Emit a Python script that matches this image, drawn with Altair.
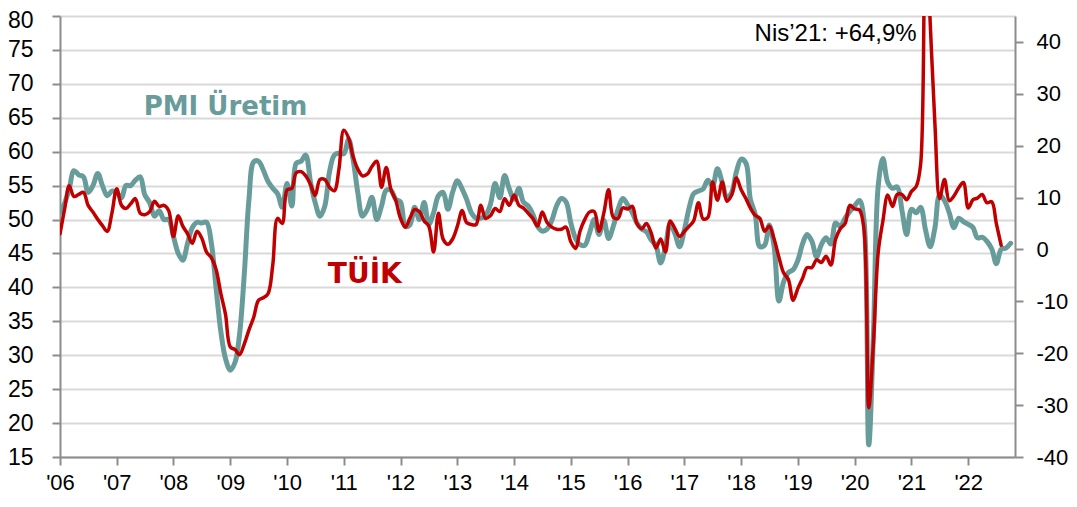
import altair as alt
import pandas as pd

# ---- data (monthly, Jan 2006 onward) ----
start_month = "2006-01-01"
year_ticks = list(range(2006, 2023))

pmi_2006 = [51.0, 52.5, 54.5, 57.2, 56.6, 56.3, 54.0, 55.0, 56.8, 55.0, 53.5, 54.2]
pmi_2007 = [54.0, 53.2, 55.0, 55.0, 55.8, 56.3, 53.6, 52.5, 50.5, 51.3, 50.0, 50.0]
pmi_2008 = [47.5, 45.0, 44.0, 46.5, 48.8, 49.6, 49.5, 49.6, 46.5, 40.0, 33.5, 29.5]
pmi_2009 = [27.8, 29.0, 33.0, 42.0, 53.0, 58.5, 58.6, 57.3, 55.6, 54.6, 53.8, 51.8]
pmi_2010 = [55.3, 52.0, 58.3, 58.6, 59.5, 55.5, 52.5, 50.5, 52.0, 57.0, 59.5, 59.8]
pmi_2011 = [59.7, 61.8, 59.0, 54.0, 50.5, 51.5, 53.3, 50.0, 52.0, 54.3, 54.3, 53.0]
pmi_2012 = [52.6, 49.0, 49.2, 51.8, 50.0, 52.5, 49.3, 51.0, 53.5, 54.0, 51.5, 54.0]
pmi_2013 = [55.7, 54.5, 53.0, 51.0, 50.2, 50.2, 50.6, 52.2, 55.3, 53.2, 56.5, 54.5]
pmi_2014 = [53.0, 54.6, 52.6, 52.0, 50.8, 49.0, 48.3, 48.6, 49.9, 52.0, 53.1, 52.6]
pmi_2015 = [49.5, 47.2, 46.3, 46.2, 48.0, 50.0, 47.8, 49.9, 47.2, 49.0, 51.5, 53.1]
pmi_2016 = [52.2, 51.0, 49.5, 48.6, 48.2, 47.0, 46.2, 43.6, 46.0, 49.4, 47.9, 46.0]
pmi_2017 = [48.5, 51.8, 53.8, 54.2, 54.5, 55.8, 55.0, 57.5, 55.5, 53.2, 54.0, 57.0]
pmi_2018 = [58.9, 58.3, 53.0, 50.8, 46.0, 46.2, 49.2, 46.0, 38.0, 40.8, 42.2, 42.6]
pmi_2019 = [44.0, 46.5, 47.8, 46.8, 44.5, 46.3, 47.3, 46.4, 49.5, 49.0, 50.2, 51.2]
pmi_2020 = [52.0, 52.8, 50.0, 16.8, 33.0, 55.0, 59.0, 55.5, 54.6, 54.8, 51.3, 47.8]
pmi_2021 = [51.5, 51.0, 51.8, 48.5, 46.0, 48.8, 53.6, 52.8, 51.0, 48.8, 50.2, 49.7]
pmi_2022 = [49.3, 48.8, 47.3, 47.4, 46.8, 45.7, 43.5, 45.6, 45.8, 46.5]

tuik_2006 = [3.0, 8.0, 12.3, 10.2, 10.6, 11.0, 8.5, 7.2, 5.8, 4.6, 3.5, 7.0]
tuik_2007 = [11.7, 8.5, 7.9, 8.8, 9.8, 7.0, 6.7, 7.3, 9.3, 8.3, 8.5, 7.5]
tuik_2008 = [2.5, 6.5, 4.5, 3.0, 1.2, 3.5, 2.2, -0.5, -1.6, -3.8, -8.5, -12.5]
tuik_2009 = [-18.8, -19.3, -20.3, -18.2, -15.5, -13.0, -9.8, -9.3, -8.5, -3.0, 6.0, 5.0]
tuik_2010 = [11.5, 11.8, 14.8, 15.0, 14.2, 12.5, 10.4, 13.5, 13.5, 12.0, 11.3, 15.5]
tuik_2011 = [23.0, 21.5, 18.0, 15.5, 14.2, 14.5, 16.0, 17.0, 12.0, 15.8, 11.5, 9.5]
tuik_2012 = [6.0, 4.3, 6.0, 7.7, 7.3, 5.5, 4.5, -0.5, 7.0, 2.0, 1.0, 2.0]
tuik_2013 = [4.5, 7.5, 5.2, 4.8, 4.8, 8.5, 6.0, 6.5, 7.9, 7.3, 9.8, 8.5]
tuik_2014 = [10.5, 8.5, 8.0, 7.0, 6.0, 4.5, 7.2, 5.2, 4.3, 3.9, 3.9, 4.3]
tuik_2015 = [1.5, 0.2, 3.5, 5.8, 7.2, 7.3, 3.5, 7.0, 11.5, 6.2, 6.0, 8.0]
tuik_2016 = [7.8, 8.3, 5.0, 4.0, 5.0, 3.2, 0.3, 2.0, -0.5, 5.5, 4.0, 2.5]
tuik_2017 = [3.5, 4.5, 5.5, 9.0, 5.9, 6.2, 13.0, 9.5, 13.0, 9.3, 10.5, 13.8]
tuik_2018 = [11.5, 9.8, 8.0, 6.6, 6.0, 3.5, 4.5, 2.0, -1.5, -4.5, -5.8, -9.8]
tuik_2019 = [-7.5, -5.5, -3.5, -3.5, -2.0, -2.5, -1.3, -3.0, 2.0, 4.0, 5.0, 8.5]
tuik_2020 = [7.8, 7.6, 4.0, -30.5, -18.0, -0.5, 5.5, 10.5, 8.3, 10.6, 10.6, 9.6]
tuik_2021 = [11.2, 12.2, 16.5, 64.9, 44.0, 24.0, 9.8, 13.5, 9.4, 10.3, 11.9, 12.9]
tuik_2022 = [8.0, 9.6, 9.9, 10.6, 9.0, 9.2, 5.0, 0.8]

pmi = (pmi_2006 + pmi_2007 + pmi_2008 + pmi_2009 + pmi_2010 + pmi_2011 + pmi_2012
       + pmi_2013 + pmi_2014 + pmi_2015 + pmi_2016 + pmi_2017 + pmi_2018 + pmi_2019
       + pmi_2020 + pmi_2021 + pmi_2022)
tuik = (tuik_2006 + tuik_2007 + tuik_2008 + tuik_2009 + tuik_2010 + tuik_2011 + tuik_2012
        + tuik_2013 + tuik_2014 + tuik_2015 + tuik_2016 + tuik_2017 + tuik_2018 + tuik_2019
        + tuik_2020 + tuik_2021 + tuik_2022)

months = pd.date_range(start_month, periods=len(pmi), freq="MS").strftime("%Y-%m-%d")
df_pmi = pd.DataFrame({"date": months, "pmi": pmi})
df_tuik = pd.DataFrame({"date": months[:len(tuik)], "tuik": tuik})

df_pmi_label = pd.DataFrame({"date": ["2008-12-01"], "pmi": [65.4], "label": ["PMI Üretim"]})
df_tuik_label = pd.DataFrame({"date": ["2011-05-16"], "tuik": [-6.45], "label": ["TÜİK"]})
df_note = pd.DataFrame({"date": ["2019-09-01"], "tuik": [40.2], "label": ["Nis\u201921: +64,9%"]})

TEAL = "#689C9B"
RED = "#C00000"
AXIS_GRAY = "#8C8C8C"
GRID_GRAY = "#D9D9D9"
LABEL_FONT = "Liberation Sans"

common_axis = dict(
    title=None, domainColor=AXIS_GRAY, domainWidth=2, tickColor=AXIS_GRAY,
    tickWidth=2, tickSize=8, labelFont=LABEL_FONT,
    labelColor="#000000", labelFlush=False, labelOverlap=False, labelBound=False,
)

x_enc = alt.X(
    "date:T",
    scale=alt.Scale(type="utc", domain=[
        alt.DateTime(year=2006, month=1, date=1, utc=True),
        alt.DateTime(year=2022, month=10, date=29, utc=True)]),
    axis=alt.Axis(
        values=[alt.DateTime(year=y, month=1, date=1, utc=True) for y in year_ticks],
        format="'%y", grid=False, labelPadding=7, labelFontSize=22, **common_axis),
)

y_left = alt.Y(
    "pmi:Q",
    scale=alt.Scale(domain=[15, 80], nice=False, zero=False),
    axis=alt.Axis(values=list(range(15, 81, 5)), orient="left", grid=True,
                  gridColor=GRID_GRAY, gridWidth=2, labelPadding=19,
                  labelFontSize=23,
                  labelOffset={"condition": {"test": "datum.value == 80", "value": 4},
                               "value": 0},
                  **common_axis),
)
y_right = alt.Y(
    "tuik:Q",
    scale=alt.Scale(domain=[-40, 45], nice=False, zero=False),
    axis=alt.Axis(values=list(range(-40, 41, 10)), orient="right", grid=False,
                  labelPadding=13, labelFontSize=22,
                  labelExpr="toString(datum.value)", **common_axis),
)

pmi_line = alt.Chart(df_pmi).mark_line(
    color=TEAL, strokeWidth=5, interpolate="catmull-rom", clip=True,
    strokeJoin="round", strokeCap="round",
).encode(x=x_enc, y=y_left)

pmi_text = alt.Chart(df_pmi_label).mark_text(
    font="DejaVu Sans", fontWeight="bold", fontSize=26, color=TEAL,
    align="center", baseline="alphabetic",
).encode(x=x_enc, y=y_left, text="label:N")

tuik_line = alt.Chart(df_tuik).mark_line(
    color=RED, strokeWidth=3.5, interpolate="catmull-rom", clip=True,
    strokeJoin="round", strokeCap="round",
).encode(x=x_enc, y=y_right)

tuik_text = alt.Chart(df_tuik_label).mark_text(
    font="DejaVu Sans", fontWeight="bold", fontSize=28, color=RED,
    align="center", baseline="alphabetic",
).encode(x=x_enc, y=y_right, text="label:N")

note_text = alt.Chart(df_note).mark_text(
    font=LABEL_FONT, fontSize=24, color="#000000",
    align="center", baseline="alphabetic",
).encode(x=x_enc, y=y_right, text="label:N")

left = alt.layer(pmi_line, pmi_text)
right = alt.layer(tuik_line, tuik_text, note_text)

chart = alt.layer(left, right).resolve_scale(y="independent").properties(
    width=955, height=441,
    autosize=alt.AutoSizeParams(type="none"),
    padding={"left": 52, "top": 8, "right": 54, "bottom": 37},
    background="white",
).configure_view(stroke=None)

chart.save("out.html", embed_options={"renderer": "svg", "actions": False})
